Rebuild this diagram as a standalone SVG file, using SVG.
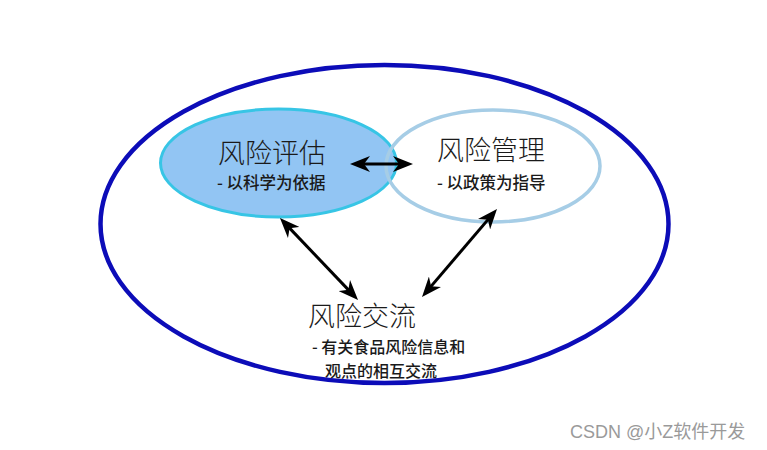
<svg xmlns="http://www.w3.org/2000/svg" width="767" height="450" viewBox="0 0 767 450">
  <style>
    .title { font-family: "Noto Sans CJK SC", "Noto Sans", sans-serif; font-size: 27px; font-weight: 300; fill: #1a1a1a; }
    .sub { font-family: "Noto Sans CJK SC", "Noto Sans", sans-serif; font-size: 16.5px; font-weight: 500; fill: #1a1a1a; }
    .sub2 { font-family: "Noto Sans CJK SC", "Noto Sans", sans-serif; font-size: 16px; font-weight: 500; fill: #1a1a1a; }
    .conn { stroke: #000; stroke-width: 3; fill: none; marker-start: url(#ah); marker-end: url(#ah); }
    .wm { font-family: "Liberation Sans", "Noto Sans CJK SC", sans-serif; font-size: 18px; fill: #9a9a9a; }
  </style>
  <defs>
    <marker id="ah" markerUnits="userSpaceOnUse" viewBox="0 0 20 16" refX="14" refY="8" markerWidth="20" markerHeight="16" orient="auto-start-reverse">
      <path d="M0,0 L20,8 L0,16 L6,8 z" fill="#000"/>
    </marker>
  </defs>
  <rect width="767" height="450" fill="#ffffff"/>

  <g id="outer">
    <ellipse cx="384.5" cy="224" rx="284" ry="159" fill="none" stroke="#0c0cb8" stroke-width="4.5"/>
  </g>

  <g id="risk-assessment">
    <ellipse cx="278.5" cy="163" rx="118" ry="54" fill="#92c5f3" stroke="#37c5e5" stroke-width="3"/>
    <text class="title" x="218" y="163">风险评估</text>
    <text class="sub" x="217" y="189">- 以科学为依据</text>
  </g>

  <g id="risk-management">
    <ellipse cx="493" cy="166" rx="107" ry="56" fill="none" stroke="#a6cde6" stroke-width="3.5"/>
    <text class="title" x="437" y="160">风险管理</text>
    <text class="sub" x="437" y="189">- 以政策为指导</text>
  </g>

  <g id="risk-communication">
    <text class="title" x="308" y="326">风险交流</text>
    <text class="sub2" x="312" y="353">-  有关食品风险信息和</text>
    <text class="sub2" x="325" y="377">观点的相互交流</text>
  </g>

  <g id="connectors">
    <line class="conn" x1="356" y1="164" x2="407" y2="164"/>
    <line class="conn" x1="284.1" y1="222.4" x2="353.9" y2="295.6"/>
    <line class="conn" x1="493.1" y1="213.6" x2="425.9" y2="292.4"/>
  </g>

  <text class="wm" x="570" y="438">CSDN @小Z软件开发</text>
</svg>
